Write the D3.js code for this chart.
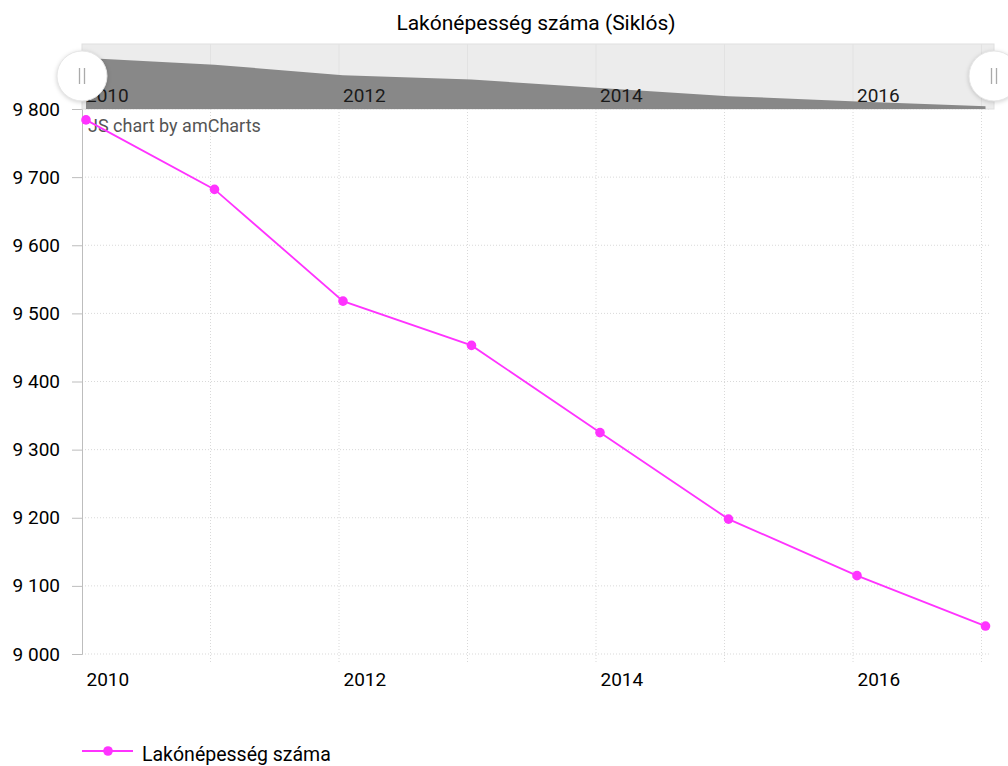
<!DOCTYPE html>
<html>
<head>
<meta charset="utf-8">
<script src="https://cdn.jsdelivr.net/npm/d3@7"></script>
<style>
  body { margin: 0; background: #fff; }
  text { font-family: Roboto, "Noto Sans", sans-serif; }
</style>
</head>
<body>
<div id="chart"></div>
<script>
// data
const years = [2010, 2011, 2012, 2013, 2014, 2015, 2016, 2017];
const population = [9784, 9682, 9518, 9453, 9325, 9198, 9115, 9041];
const yTicks = [9000, 9100, 9200, 9300, 9400, 9500, 9600, 9700, 9800];
const labelYears = [2010, 2012, 2014, 2016];
const seriesName = "Lakónépesség száma";
const chartTitle = "Lakónépesség száma (Siklós)";

const data = years.map((y, i) => ({year: y, value: population[i]}));

const W = 1008, H = 766;
const plot = {left: 82, right: 990, top: 109, bottom: 654};
const scroll = {left: 82, right: 994, top: 44, bottom: 109};
const lineColor = "#ff33ff";
// points sit a little after the start of each year
const shift = 0.031;

const huFormat = d3.formatLocale({decimal: ",", thousands: " ", grouping: [3], currency: ["", ""]}).format(",");

const svg = d3.select("#chart")
  .append("svg")
    .attr("width", W)
    .attr("height", H);

const x = d3.scaleLinear()
  .domain([2010, 2017.066])
  .range([plot.left, plot.right]);

const y = d3.scaleLinear()
  .domain([9000, 9800])
  .range([plot.bottom, plot.top]);

// scrollbar preview scale
const ys = d3.scaleLinear()
  .domain([9000, 10000])
  .range([scroll.bottom, scroll.top]);

// title
svg.append("text")
  .attr("x", 536)
  .attr("y", 30)
  .attr("text-anchor", "middle")
  .style("font-size", "21px")
  .style("fill", "#000")
  .text(chartTitle);

// grid
svg.append("g")
  .selectAll("line")
  .data(yTicks)
  .join("line")
    .attr("x1", plot.left)
    .attr("x2", plot.right)
    .attr("y1", d => y(d))
    .attr("y2", d => y(d))
    .attr("stroke", "#d9d9d9")
    .attr("stroke-dasharray", "1,2");

svg.append("g")
  .selectAll("line")
  .data(years.slice(1))
  .join("line")
    .attr("x1", d => x(d))
    .attr("x2", d => x(d))
    .attr("y1", plot.top)
    .attr("y2", plot.bottom + 8)
    .attr("stroke", "#d9d9d9")
    .attr("stroke-dasharray", "1,2");

// y axis
const yAxis = svg.append("g")
  .attr("transform", `translate(${plot.left},0)`)
  .call(d3.axisLeft(y).tickValues(yTicks).tickSize(10).tickPadding(12).tickFormat(huFormat));
yAxis.select(".domain").attr("stroke", "#bdbdbd");
yAxis.selectAll(".tick line").attr("stroke", "#bdbdbd");
yAxis.selectAll("text")
  .style("font-size", "19px")
  .style("fill", "#000");

// x axis labels
const xAxis = svg.append("g")
  .attr("transform", `translate(0,${plot.bottom})`)
  .call(d3.axisBottom(x).tickValues(labelYears).tickSize(0).tickPadding(19).tickFormat(d3.format("d")));
xAxis.select(".domain").remove();
xAxis.selectAll("text")
  .attr("text-anchor", "start")
  .attr("dx", 4)
  .style("font-size", "19px")
  .style("fill", "#000");

// credit
svg.append("text")
  .attr("x", 88)
  .attr("y", 132)
  .style("font-size", "18px")
  .style("fill", "#555")
  .text("JS chart by amCharts");

// series line
svg.append("path")
  .datum(data)
  .attr("d", d3.line()
    .x(d => x(d.year + shift))
    .y(d => y(d.value)))
  .attr("fill", "none")
  .attr("stroke", lineColor)
  .attr("stroke-width", 1.8);

svg.append("g")
  .selectAll("circle")
  .data(data)
  .join("circle")
    .attr("cx", d => x(d.year + shift))
    .attr("cy", d => y(d.value))
    .attr("r", 4.8)
    .attr("fill", lineColor);

// scrollbar
const sb = svg.append("g");
sb.append("rect")
  .attr("x", scroll.left)
  .attr("y", scroll.top)
  .attr("width", scroll.right - scroll.left)
  .attr("height", scroll.bottom - scroll.top)
  .attr("fill", "#ececec")
  .attr("stroke", "#e0e0e0");

sb.selectAll(".sbgrid")
  .data(years.slice(1))
  .join("line")
    .attr("class", "sbgrid")
    .attr("x1", d => x(d))
    .attr("x2", d => x(d))
    .attr("y1", scroll.top)
    .attr("y2", scroll.bottom)
    .attr("stroke", "#e2e2e2");

sb.append("path")
  .datum(data)
  .attr("d", d3.area()
    .x(d => x(d.year + shift))
    .y0(scroll.bottom)
    .y1(d => ys(d.value)))
  .attr("fill", "#888888");

sb.selectAll(".sblabel")
  .data(labelYears)
  .join("text")
    .attr("class", "sblabel")
    .attr("x", d => x(d) + 4)
    .attr("y", 102)
    .style("font-size", "19px")
    .style("fill", "#1a1a1a")
    .text(d => d);

// grabbers
const grips = [scroll.left, scroll.right];
const grip = sb.selectAll(".grip")
  .data(grips)
  .join("g")
    .attr("class", "grip")
    .attr("transform", d => `translate(${d},76)`);
grip.append("circle")
  .attr("r", 25)
  .attr("fill", "#fff")
  .attr("stroke", "#e6e6e6")
  .attr("stroke-width", 1)
  .style("filter", "drop-shadow(0px 1px 2px rgba(0,0,0,0.18))");
grip.selectAll(".bar")
  .data([-2.5, 2.5])
  .join("line")
    .attr("class", "bar")
    .attr("x1", d => d)
    .attr("x2", d => d)
    .attr("y1", -8)
    .attr("y2", 8)
    .attr("stroke", "#aaa")
    .attr("stroke-width", 1.3);

// legend
const legend = svg.append("g").attr("transform", "translate(82,751)");
legend.append("line")
  .attr("x1", 0)
  .attr("x2", 51)
  .attr("stroke", lineColor)
  .attr("stroke-width", 1.8);
legend.append("circle")
  .attr("cx", 26)
  .attr("r", 4.8)
  .attr("fill", lineColor);
legend.append("text")
  .attr("x", 60)
  .attr("y", 10)
  .style("font-size", "19.5px")
  .style("fill", "#000")
  .text(seriesName);
</script>
</body>
</html>
